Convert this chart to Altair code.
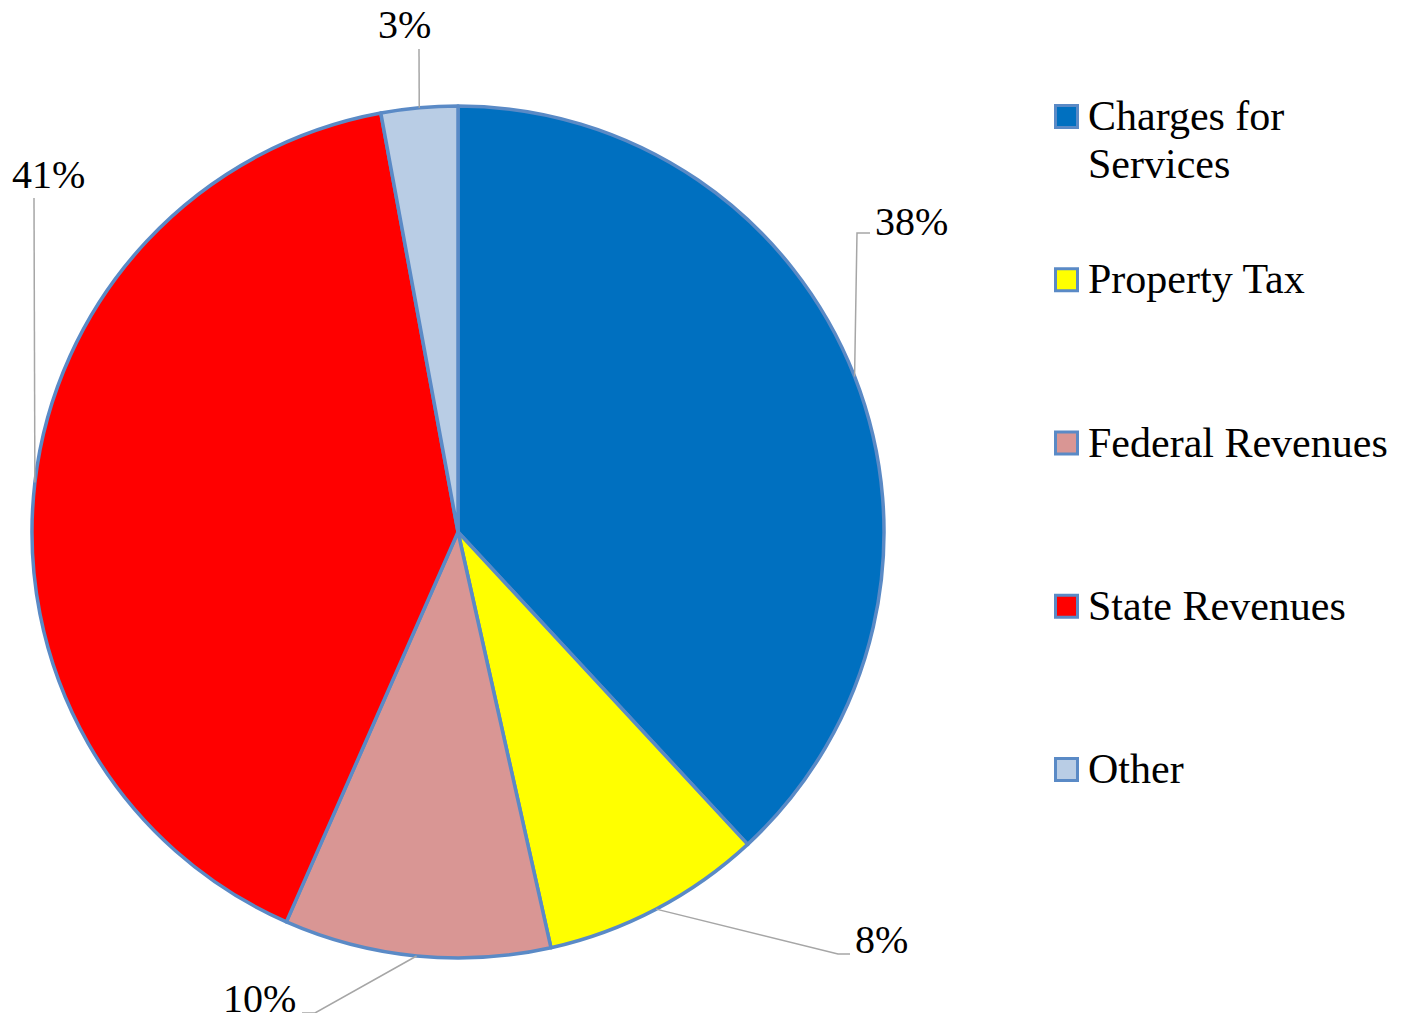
import math
import pandas as pd
import altair as alt

# ---------------- data ----------------
CATEGORIES = ["Charges for Services", "Property Tax", "Federal Revenues", "State Revenues", "Other"]
VALUES = [38.1, 8.4, 10.1, 40.5, 2.9]
COLORS = ["#0070C0", "#FFFF00", "#D99694", "#FF0000", "#B9CDE5"]
LEGEND_TEXT = ["Charges for\nServices", "Property Tax", "Federal Revenues", "State Revenues", "Other"]

# ---------------- layout ----------------
W, H = 1386, 1005
MARGIN = 8
CX, CY = 458, 532          # pie centre on the page (px)
R = 426                    # pie radius (px)
FONT = "Times New Roman, Liberation Serif, Tinos, DejaVu Serif, serif"
FS = 40
LEG_FS = 42
EDGE = "#5A8AC6"
LEADER_COLOR = "#A6A6A6"

# label / leader placement, px relative to the pie centre (y down)
LABEL_LAYOUT = {
    "Charges for Services": {"elbow": (399, -299), "end": (412, -299), "text": (417, -297)},
    "Property Tax": {"elbow": (380, 422), "end": (392, 422), "text": (397, 421)},
    "Federal Revenues": {"elbow": (-143, 481), "end": (-156, 481), "text": (-235, 480)},
    "State Revenues": {"elbow": (-424, -334), "end": (-424, -334), "text": (-446, -344)},
    "Other": {"elbow": (-39, -483), "end": (-39, -483), "text": (-80, -494)},
}
LEG_X, LEG_Y0, LEG_STEP, LEG_TXT_X = 608.5, -415.5, 163.25, 630

xmin = (MARGIN - CX) / R
xmax = xmin + W / R
ymax = (CY - MARGIN) / R
ymin = ymax - H / R
XS = alt.Scale(domain=[xmin, xmax], nice=False, zero=False)
YS = alt.Scale(domain=[ymin, ymax], nice=False, zero=False)


def X(f):
    return alt.X(f, type="quantitative", scale=XS, axis=None)


def Y(f):
    return alt.Y(f, type="quantitative", scale=YS, axis=None)


# ---------------- tables ----------------
total = sum(VALUES)
pie_df = pd.DataFrame({
    "category": CATEGORIES,
    "value": VALUES,
    "idx": list(range(len(CATEGORIES))),
    "cx": 0.0,
    "cy": 0.0,
})

line_rows, label_rows = [], []
cum = 0.0
for cat, v in zip(CATEGORIES, VALUES):
    mid = (cum + v / 2) / total * 2 * math.pi
    cum += v
    lay = LABEL_LAYOUT[cat]
    pts = [(math.sin(mid), math.cos(mid)),
           (lay["elbow"][0] / R, -lay["elbow"][1] / R),
           (lay["end"][0] / R, -lay["end"][1] / R)]
    for k, (px, py) in enumerate(pts):
        line_rows.append({"category": cat, "k": k, "x": px, "y": py})
    label_rows.append({"category": cat, "label": f"{math.floor(v / total * 100 + 0.5)}%",
                       "x": lay["text"][0] / R, "y": -lay["text"][1] / R})
line_df = pd.DataFrame(line_rows)
label_df = pd.DataFrame(label_rows)

leg_df = pd.DataFrame({
    "category": CATEGORIES,
    "text": LEGEND_TEXT,
    "x": LEG_X / R,
    "tx": LEG_TXT_X / R,
    "y": [-(LEG_Y0 + i * LEG_STEP) / R for i in range(len(CATEGORIES))],
})

color = alt.Color("category:N", scale=alt.Scale(domain=CATEGORIES, range=COLORS), legend=None)

pie = alt.Chart(pie_df).mark_arc(outerRadius=R, stroke=EDGE, strokeWidth=3.5, strokeJoin="round").encode(
    x=X("cx"), y=Y("cy"),
    theta=alt.Theta("value:Q", stack=True),
    order=alt.Order("idx:Q"),
    color=color,
)

leaders = alt.Chart(line_df).mark_line(color=LEADER_COLOR, strokeWidth=1.5).encode(
    x=X("x"), y=Y("y"), detail="category:N", order="k:Q"
)

labels = alt.Chart(label_df).mark_text(
    align="left", baseline="alphabetic", font=FONT, fontSize=FS, color="black"
).encode(x=X("x"), y=Y("y"), text="label:N")

leg_sq = alt.Chart(leg_df).mark_square(size=22 * 22, stroke=EDGE, strokeWidth=3, opacity=1).encode(
    x=X("x"), y=Y("y"), color=color
)

leg_txt = alt.Chart(leg_df).mark_text(
    align="left", baseline="alphabetic", dy=13.5, font=FONT, fontSize=LEG_FS, color="black",
    lineBreak="\n", lineHeight=48
).encode(x=X("tx"), y=Y("y"), text="text:N")

chart = alt.layer(pie, leaders, labels, leg_sq, leg_txt).properties(
    width=W, height=H, padding=0, autosize=alt.AutoSizeParams(type="none")
).configure_view(stroke=None)

chart.save("out.html", embed_options={"renderer": "svg", "actions": False})
